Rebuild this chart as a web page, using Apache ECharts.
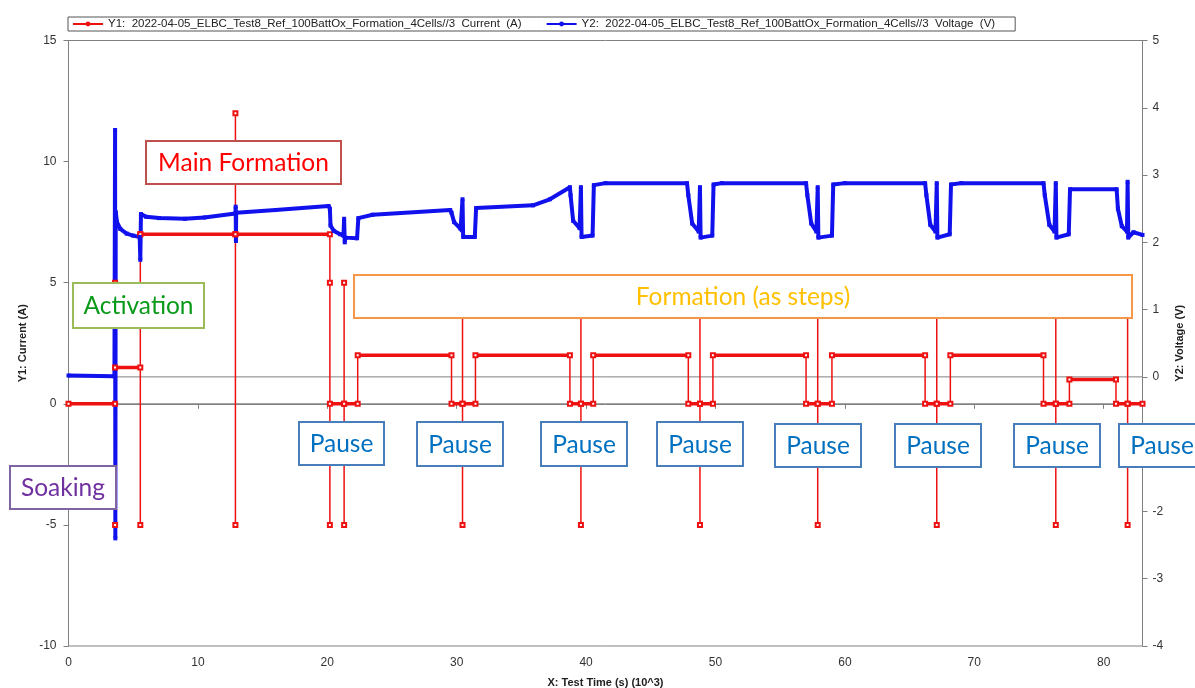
<!DOCTYPE html>
<html>
<head>
<meta charset="utf-8">
<script src="https://cdn.jsdelivr.net/npm/echarts@6/dist/echarts.min.js"></script>
<style>
html,body{margin:0;padding:0;background:#fff;}
#c{width:1195px;height:688px;}
</style>
</head>
<body>
<div id="c"></div>
<script>
// ---- data (x in 10^3 s) ----
const xEnd = 83;
const seriesNames = [
  'Y1:  2022-04-05_ELBC_Test8_Ref_100BattOx_Formation_4Cells//3  Current  (A)',
  'Y2:  2022-04-05_ELBC_Test8_Ref_100BattOx_Formation_4Cells//3  Voltage  (V)'
];
// current step levels: [start x, current (A)]
const currentLevels = [
  [0, 0], [3.6, 1.5], [5.55, 7], [20.2, 0], [22.35, 2], [29.6, 0], [31.45, 2],
  [38.75, 0], [40.55, 2], [47.9, 0], [49.8, 2], [57.0, 0], [59.0, 2], [66.2, 0],
  [68.15, 2], [75.35, 0], [77.35, 1], [80.95, 0]
];
// current spikes: [x, high (A), low (A)]
const currentSpikes = [
  [3.6, 5, -5], [5.55, 7, -5], [12.9, 12, -5], [20.2, 5, -5], [21.3, 5, -5],
  [30.45, 5, -5], [39.6, 5, -5], [48.8, 5, -5], [57.9, 5, -5], [67.1, 5, -5],
  [76.3, 5, -5], [81.85, 5, -5]
];
// voltage trace: [x, V]
const voltagePoints = [
  [0, 0.02], [3.55, 0.01], [3.6, 3.67], [3.62, -2.4], [3.65, 2.45], [3.75, 2.3], [4.0, 2.2],
  [4.5, 2.13], [5.0, 2.1], [5.5, 2.08], [5.55, 1.74], [5.6, 2.42], [6.0, 2.38], [7.0, 2.36],
  [9.0, 2.35], [10.5, 2.37], [12.9, 2.43], [12.92, 2.53], [12.94, 2.02], [12.96, 2.44],
  [16.0, 2.48], [20.1, 2.54], [20.2, 2.5], [20.25, 2.25], [20.5, 2.17], [21.0, 2.12],
  [21.25, 2.1], [21.3, 2.35], [21.35, 2.0], [21.4, 2.07], [22.3, 2.06], [22.4, 2.36],
  [23.5, 2.41], [29.5, 2.48], [29.6, 2.44], [29.8, 2.3], [30.3, 2.2], [30.4, 2.18],
  [30.45, 2.64], [30.5, 2.08], [31.4, 2.08], [31.5, 2.51], [35.9, 2.55], [37.2, 2.64],
  [38.75, 2.82], [38.8, 2.7], [39.0, 2.32], [39.5, 2.21], [39.6, 2.82], [39.65, 2.08],
  [40.5, 2.1], [40.6, 2.85], [41.5, 2.88], [47.8, 2.88], [47.9, 2.7], [48.2, 2.28],
  [48.7, 2.16], [48.8, 2.82], [48.85, 2.07], [49.75, 2.1], [49.85, 2.86], [50.5, 2.88],
  [57.0, 2.88], [57.1, 2.7], [57.4, 2.28], [57.8, 2.16], [57.9, 2.82], [57.95, 2.07],
  [59.0, 2.1], [59.1, 2.86], [60.0, 2.88], [66.2, 2.88], [66.3, 2.7], [66.6, 2.26],
  [67.0, 2.16], [67.1, 2.88], [67.15, 2.07], [68.1, 2.12], [68.2, 2.86], [69.0, 2.88],
  [75.35, 2.88], [75.45, 2.7], [75.8, 2.26], [76.2, 2.16], [76.3, 2.88], [76.35, 2.07],
  [77.3, 2.12], [77.4, 2.79], [81.0, 2.79], [81.1, 2.5], [81.4, 2.24], [81.8, 2.16],
  [81.85, 2.9], [81.9, 2.07], [82.3, 2.15], [83.0, 2.11]
];

// ---- build current path from levels + spikes ----
const events = {};
currentLevels.slice(1).forEach(l => { (events[l[0]] = events[l[0]] || {}).level = l[1]; });
currentSpikes.forEach(s => { (events[s[0]] = events[s[0]] || {}).spike = s; });
const evX = Object.keys(events).map(Number).sort((a, b) => a - b);
let cur = currentLevels[0][1];
const currentPath = [[0, cur]];
evX.forEach(x => {
  const e = events[x];
  currentPath.push([x, cur]);
  if (e.spike) { currentPath.push([x, e.spike[1]]); currentPath.push([x, e.spike[2]]); }
  if (e.level !== undefined) cur = e.level;
  currentPath.push([x, cur]);
});
currentPath.push([xEnd, cur]);
const levelSegs = [];
currentLevels.forEach((l, i) => {
  const x1 = i + 1 < currentLevels.length ? currentLevels[i + 1][0] : xEnd;
  levelSegs.push([l[0], l[1]], [x1, l[1]], ['-', '-']);
});

const RED = '#ee1111', BLUE = '#1111ee', AX = '#808080';
const mark = (arr, sym) => arr.map(p => ({ value: p, symbol: sym }));

// ---- annotation callouts (pixel layout) ----
const callouts = [
  ['Main Formation', 146, 141, 341, 184, '#c0504d', '#ff0000'],
  ['Activation', 73, 283, 204, 328, '#9bbb59', '#0a9a1a'],
  ['Soaking', 10, 466, 116, 509, '#8064a2', '#7030a0'],
  ['Formation (as steps)', 354, 275, 1132, 318, '#f79646', '#ffc000'],
  ['Pause', 299, 422, 384, 465, '#4a7ebb', '#0070c0'],
  ['Pause', 417, 422, 503, 466, '#4a7ebb', '#0070c0'],
  ['Pause', 541, 422, 627, 466, '#4a7ebb', '#0070c0'],
  ['Pause', 657, 422, 743, 466, '#4a7ebb', '#0070c0'],
  ['Pause', 775, 424, 861, 467, '#4a7ebb', '#0070c0'],
  ['Pause', 895, 424, 981, 467, '#4a7ebb', '#0070c0'],
  ['Pause', 1014, 424, 1100, 467, '#4a7ebb', '#0070c0'],
  ['Pause', 1119, 424, 1205, 467, '#4a7ebb', '#0070c0']
];
const graphics = [];
callouts.forEach(c => {
  graphics.push({ type: 'rect', z: 100, shape: { x: c[1], y: c[2], width: c[3] - c[1], height: c[4] - c[2] },
    style: { fill: '#ffffff', stroke: c[5], lineWidth: 2 } });
  graphics.push({ type: 'text', z: 101, x: (c[1] + c[3]) / 2, y: (c[2] + c[4]) / 2 + 1,
    style: { text: c[0], fill: c[6], font: '24.5px Lato', align: 'center', verticalAlign: 'middle',
      textAlign: 'center', textVerticalAlign: 'middle' } });
});

const tickFont = { color: '#333', fontSize: 12, fontFamily: 'Liberation Sans Narrow, Liberation Sans, Arial, sans-serif' };
const nameFont = { color: '#222', fontSize: 11, fontWeight: 'bold', fontFamily: 'Liberation Sans, Arial, sans-serif' };

const chart = echarts.init(document.getElementById('c'), null, { renderer: 'canvas' });
chart.setOption({
  animation: false,
  backgroundColor: '#fff',
  grid: { left: 68.5, right: 52.5, top: 40.5, bottom: 42, show: true, borderColor: AX, borderWidth: 1,
    containLabel: false, outerBoundsMode: 'none' },
  legend: {
    data: seriesNames, left: 68, top: 17, padding: [1, 20, 1, 4], itemGap: 24, itemWidth: 30, itemHeight: 6,
    borderColor: '#555', borderWidth: 1, selectedMode: false,
    textStyle: { color: '#222', fontSize: 11.5, fontFamily: 'Liberation Sans, Arial, sans-serif' },
    lineStyle: { width: 2 }
  },
  xAxis: {
    type: 'value', min: 0, max: xEnd, interval: 10,
    name: 'X: Test Time (s) (10^3)', nameLocation: 'middle', nameGap: 31, nameTextStyle: nameFont,
    axisLine: { lineStyle: { color: AX } }, axisTick: { length: 5, lineStyle: { color: AX } },
    axisLabel: Object.assign({ margin: 11, formatter: v => (v % 10 === 0 ? String(v) : '') }, tickFont),
    splitLine: { show: false }
  },
  yAxis: [
    { type: 'value', min: -10, max: 15, interval: 5, position: 'left',
      name: 'Y1: Current (A)', nameLocation: 'middle', nameGap: 33, nameTextStyle: nameFont,
      axisLine: { show: true, lineStyle: { color: AX } }, axisTick: { show: true, length: 5, lineStyle: { color: AX } },
      axisLabel: Object.assign({ margin: 12 }, tickFont), splitLine: { show: false } },
    { type: 'value', min: -4, max: 5, interval: 1, position: 'right',
      name: 'Y2: Voltage (V)', nameLocation: 'middle', nameGap: 24, nameTextStyle: nameFont,
      axisLine: { show: true, lineStyle: { color: AX } }, axisTick: { show: true, length: 5, lineStyle: { color: AX } },
      axisLabel: Object.assign({ margin: 10 }, tickFont), splitLine: { show: false } }
  ],
  series: [
    { name: 'zero1', type: 'line', yAxisIndex: 0, data: [[0, 0], [xEnd, 0]], showSymbol: false, silent: true,
      lineStyle: { color: AX, width: 1 }, itemStyle: { color: AX } },
    { name: 'zero2', type: 'line', yAxisIndex: 1, data: [[0, 0], [xEnd, 0]], showSymbol: false, silent: true,
      lineStyle: { color: AX, width: 1 }, itemStyle: { color: AX } },
    { name: seriesNames[0], type: 'line', yAxisIndex: 0, data: mark(currentPath, 'emptyRect'),
      symbol: 'circle', symbolSize: 4, showSymbol: true, showAllSymbol: true,
      lineStyle: { color: RED, width: 1.5 }, itemStyle: { color: RED } },
    { name: 'levels', type: 'line', yAxisIndex: 0, data: levelSegs, showSymbol: false, connectNulls: false,
      lineStyle: { color: RED, width: 3.5 }, itemStyle: { color: RED } },
    { name: seriesNames[1], type: 'line', yAxisIndex: 1, data: mark(voltagePoints, 'rect'),
      symbol: 'circle', symbolSize: 4, showSymbol: true, showAllSymbol: true,
      lineStyle: { color: BLUE, width: 4 }, itemStyle: { color: BLUE } }
  ],
  graphic: { elements: graphics }
});
</script>
</body>
</html>
